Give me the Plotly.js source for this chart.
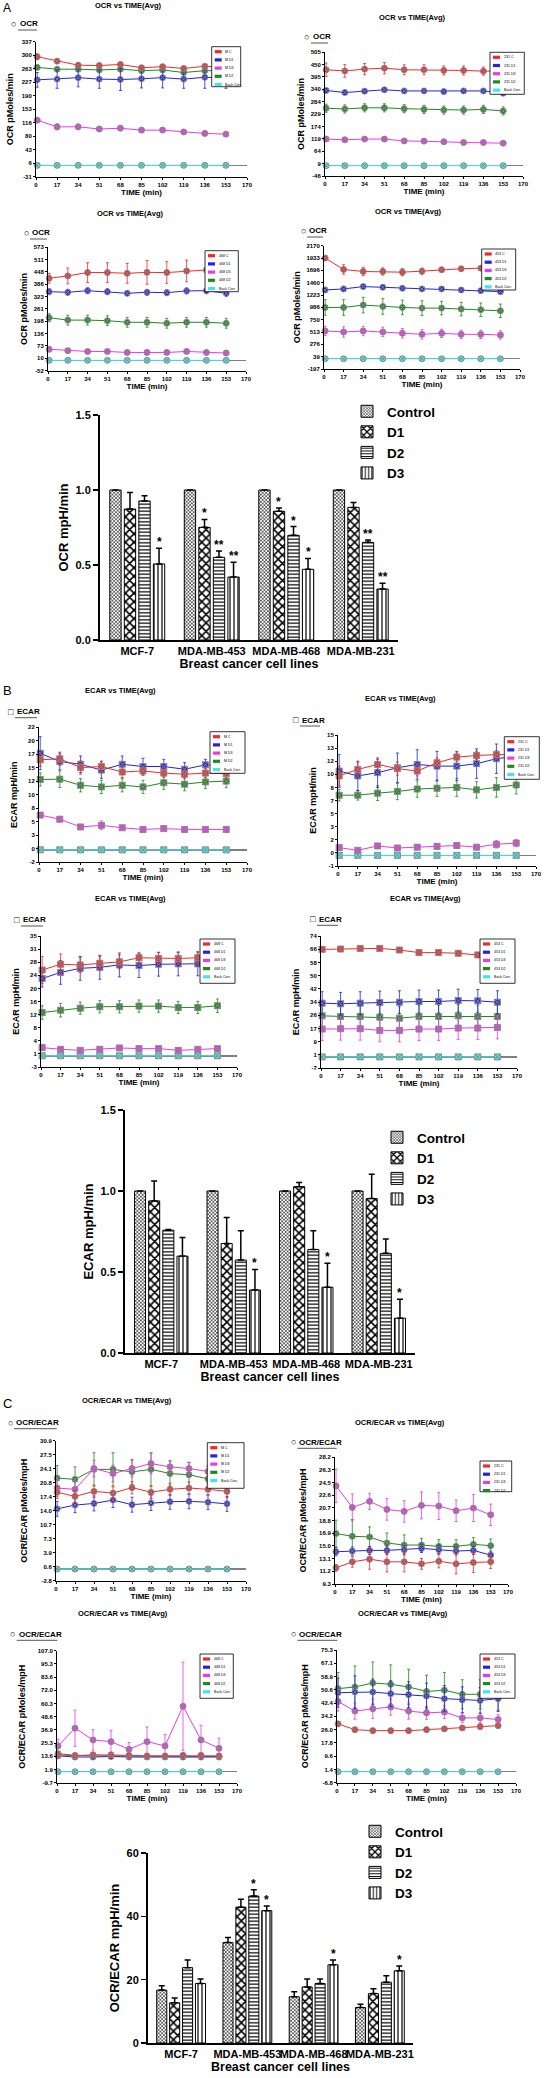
<!DOCTYPE html>
<html><head><meta charset="utf-8">
<script src="https://cdn.plot.ly/plotly-3.0.1.min.js"></script>
<style>html,body{margin:0;padding:0;background:#fff}#chart{width:550px;height:2078px}</style>
</head><body><div id="chart"></div>
<script>
// ---------------- DATA ----------------
const times = [1, 17, 34, 51, 68, 85, 102, 119, 136, 153];
const timeTicks = [0, 17, 34, 51, 68, 85, 102, 119, 136, 153, 170];
const cellLines = ['MCF-7', 'MDA-MB-453', 'MDA-MB-468', 'MDA-MB-231'];
const barGroups = ['Control', 'D1', 'D2', 'D3'];
const backCorr = [0, 0, 0, 0, 0, 0, 0, 0, 0, 0];
const noErr = [0, 0, 0, 0, 0, 0, 0, 0, 0, 0];

// A: OCR vs TIME
const ocrMcf7Names = ['M C', 'M D1', 'M D3', 'M D2', 'Back Corr.'];
const ocrMcf7Ticks = ['337', '300', '263', '227', '190', '153', '116', '80', '43', '6', '-31'];
const ocrMcf7 = [
  [296, 284, 273, 272, 275, 266, 269, 264, 270, 268],
  [233, 235, 239, 235, 234, 236, 239, 235, 240, 238],
  [123, 105, 105, 99, 101, 96, 96, 91, 87, 85],
  [267, 262, 262, 260, 262, 258, 260, 253, 258, 258],
  backCorr];
const ocrMcf7Err = [
  [8, 6, 6, 5, 6, 5, 5, 5, 6, 6],
  [20, 25, 25, 25, 30, 25, 28, 25, 30, 28],
  [6, 8, 7, 6, 6, 5, 5, 5, 6, 6],
  [6, 5, 5, 5, 5, 5, 5, 5, 5, 5],
  noErr];

const ocr231Names = ['231 C', '231 D1', '231 D3', '231 D2', 'Back Corr.'];
const ocr231Ticks = ['505', '450', '395', '340', '284', '229', '174', '119', '64', '9', '-46'];
const ocr231 = [
  [426, 421, 429, 433, 426, 426, 423, 423, 420, 420],
  [334, 325, 331, 337, 332, 332, 329, 332, 332, 322],
  [118, 115, 118, 118, 110, 109, 106, 103, 103, 100],
  [255, 252, 257, 257, 253, 250, 247, 247, 250, 243],
  backCorr];
const ocr231Err = [
  [30, 28, 25, 25, 22, 22, 20, 20, 18, 18],
  [8, 6, 6, 6, 6, 6, 6, 6, 6, 6],
  [8, 6, 6, 6, 5, 5, 5, 4, 4, 4],
  [18, 18, 18, 18, 18, 18, 18, 18, 18, 18],
  noErr];

const ocr468Names = ['468 C', '468 D1', '468 D3', '468 D2', 'Back Corr.'];
const ocr468Ticks = ['573', '511', '448', '386', '323', '261', '198', '136', '73', '10', '-52'];
const ocr468 = [
  [416, 428, 445, 445, 441, 446, 445, 453, 458, 460],
  [348, 345, 353, 348, 340, 345, 343, 352, 353, 340],
  [56, 49, 45, 45, 40, 40, 40, 45, 40, 37],
  [216, 204, 204, 201, 193, 193, 188, 193, 193, 188],
  backCorr];
const ocr468Err = [
  [25, 40, 50, 50, 50, 60, 55, 55, 60, 60],
  [15, 15, 15, 15, 12, 15, 15, 15, 15, 15],
  [6, 5, 5, 5, 4, 4, 4, 4, 4, 4],
  [20, 25, 25, 25, 25, 25, 25, 25, 25, 25],
  noErr];

const ocr453Names = ['453 C', '453 D1', '453 D3', '453 D2', 'Back Corr.'];
const ocr453Ticks = ['2170', '1933', '1696', '1460', '1223', '986', '750', '513', '276', '39', '-197'];
const ocr453 = [
  [1933, 1714, 1675, 1675, 1662, 1681, 1707, 1727, 1739, 1745],
  [1320, 1340, 1385, 1372, 1353, 1340, 1340, 1320, 1307, 1288],
  [533, 514, 533, 514, 488, 469, 488, 469, 469, 456],
  [985, 985, 1030, 1004, 985, 972, 972, 953, 940, 920],
  backCorr];
const ocr453Err = [
  [40, 90, 80, 70, 70, 60, 50, 40, 40, 40],
  [50, 50, 40, 40, 40, 40, 40, 40, 40, 40],
  [90, 100, 90, 90, 90, 90, 80, 80, 80, 80],
  [150, 150, 150, 150, 140, 140, 130, 130, 130, 130],
  noErr];

// B: ECAR vs TIME
const ecarMcf7Ticks = ['22', '20', '17', '15', '12', '10', '8', '5', '3', '0', '-2'];
const ecarMcf7 = [
  [16.3, 16.5, 14.9, 15.1, 14.1, 14.3, 13.9, 13.7, 13.9, 13.8],
  [17.5, 16.0, 15.5, 14.45, 15.5, 15.1, 15.1, 14.6, 15.4, 15.2],
  [6.3, 5.55, 4.15, 4.45, 4.0, 3.7, 3.85, 3.7, 3.7, 3.7],
  [12.75, 12.8, 11.7, 11.4, 11.7, 11.4, 12.15, 11.9, 12.3, 12.45],
  backCorr];
const ecarMcf7Err = [
  [1.2, 1.2, 1.2, 1.0, 1.0, 0.8, 0.8, 0.8, 0.8, 0.8],
  [3.0, 1.5, 1.5, 1.5, 1.5, 1.5, 1.3, 1.2, 1.0, 1.0],
  [0.4, 0.4, 0.4, 0.8, 0.4, 0.3, 0.3, 0.3, 0.3, 0.3],
  [1.2, 1.5, 1.2, 1.2, 1.2, 1.2, 1.2, 1.2, 1.2, 1.2],
  noErr];

const ecar231Ticks = ['15', '13', '12', '10', '8', '7', '5', '3', '2', '0', '-1'];
const ecar231 = [
  [9.7, 10.5, 11.1, 10.6, 10.3, 11.3, 12.0, 12.2, 12.3, 12.3],
  [10.3, 9.7, 10.1, 10.7, 11.1, 10.9, 10.9, 11.2, 11.8, 12.1],
  [0.94, 0.62, 1.15, 0.9, 1.0, 1.1, 1.2, 1.0, 1.35, 1.5],
  [7.35, 7.35, 7.6, 7.8, 8.1, 8.2, 8.3, 8.0, 8.3, 8.6],
  backCorr];
const ecar231Err = [
  [1.2, 0.9, 0.6, 0.8, 0.6, 0.6, 0.5, 0.5, 0.5, 0.5],
  [2.0, 1.8, 1.8, 1.8, 1.8, 1.8, 1.8, 1.8, 1.8, 1.8],
  [0.35, 0.2, 0.3, 0.3, 0.3, 0.35, 0.35, 0.3, 0.45, 0.45],
  [0.7, 0.6, 0.9, 1.0, 1.0, 1.0, 1.1, 1.0, 1.2, 1.1],
  noErr];

const ecar468Ticks = ['35', '31', '28', '24', '20', '16', '12', '8', '4', '1', '-3'];
const ecar468 = [
  [25.2, 26.9, 26.7, 27.2, 27.6, 28.8, 28.6, 28.6, 28.8, 28.9],
  [22.7, 24.5, 25.7, 26.0, 26.7, 26.5, 26.9, 27.0, 27.0, 27.1],
  [2.4, 1.9, 1.6, 1.9, 2.3, 2.1, 2.1, 1.6, 1.9, 2.1],
  [12.7, 13.4, 14.0, 14.4, 14.4, 14.6, 14.6, 14.2, 14.2, 14.7],
  backCorr];
const ecar468Err = [
  [4, 3, 2.2, 2, 2, 1.6, 1.8, 1.8, 1.8, 1.8],
  [2.5, 3.5, 3.5, 3.5, 3.5, 3.5, 3.5, 3.5, 3.5, 3.5],
  [0.5, 0.5, 0.5, 0.5, 0.5, 0.5, 0.5, 0.5, 0.5, 0.5],
  [2, 2, 1.8, 1.8, 1.8, 1.8, 1.8, 1.8, 1.8, 2],
  noErr];

const ecar453Ticks = ['74', '66', '58', '50', '42', '34', '26', '17', '9', '1', '-7'];
const ecar453 = [
  [66.0, 66.2, 66.6, 66.6, 65.6, 64.0, 64.0, 63.6, 62.6, 62.5],
  [33.0, 32.6, 33.0, 33.4, 33.6, 34.0, 34.0, 34.6, 34.4, 33.6],
  [17.1, 17.3, 17.3, 16.3, 16.3, 17.1, 17.1, 17.7, 17.7, 18.1],
  [25.2, 24.8, 24.8, 24.4, 23.8, 24.8, 24.8, 25.2, 24.8, 24.8],
  backCorr];
const ecar453Err = [
  [1, 1, 1, 1, 1, 1, 1, 1, 1.5, 1.5],
  [7, 7, 7, 7, 7, 7, 7, 7, 7, 7],
  [7, 7, 7, 7, 7, 7, 7, 7, 7, 7],
  [7, 7, 7, 7, 7, 7, 7, 7, 7, 7],
  noErr];

// C: OCR/ECAR vs TIME
const ratioMcf7Ticks = ['30.9', '27.5', '24.1', '20.8', '17.4', '14.0', '10.7', '7.3', '3.9', '0.6', '-2.8'];
const ratioMcf7 = [
  [18.5, 17.5, 18.7, 18.3, 19.6, 18.5, 19.2, 19.5, 19.2, 18.7],
  [14.5, 15.4, 15.8, 16.6, 15.5, 15.9, 16.2, 16.3, 16.1, 15.7],
  [19.5, 19.2, 24.2, 23.0, 24.2, 25.4, 24.6, 24.2, 23.5, 23.0],
  [21.9, 21.6, 24.0, 24.0, 23.4, 24.0, 23.0, 22.7, 21.7, 21.5],
  backCorr];
const ratioMcf7Err = [
  [1.5, 1.5, 1.5, 1.5, 1.5, 1.5, 1.5, 1.5, 1.5, 1.5],
  [1.8, 1.8, 1.8, 1.8, 1.8, 1.8, 1.8, 1.8, 1.8, 1.8],
  [2, 2, 2, 2, 2, 2.5, 1.5, 1.5, 1.5, 1.5],
  [3, 3, 4, 4, 3, 4, 3, 3, 3, 3],
  noErr];

const ratio231Names = ['231 C', '231 D1', '231 D3', '231 D2'];
const ratio231Ticks = ['28.2', '26.3', '24.5', '22.6', '20.7', '18.8', '16.9', '15.0', '13.1', '11.2', '9.3'];
const ratio231 = [
  [11.7, 12.6, 13.0, 12.6, 12.6, 12.3, 12.7, 12.3, 12.5, 12.6],
  [14.1, 14.2, 14.3, 14.3, 14.4, 14.6, 14.4, 14.2, 14.3, 13.6],
  [23.9, 20.7, 21.6, 20.4, 20.1, 21.0, 20.9, 20.2, 20.6, 19.6],
  [16.8, 16.4, 16.3, 15.4, 15.1, 15.1, 14.9, 14.9, 15.2, 15.0]];
const ratio231Err = [
  [0.5, 0.8, 1.5, 1.5, 1.5, 0.8, 1.0, 1.5, 1.5, 1.0],
  [0.6, 0.6, 0.6, 0.6, 0.6, 0.6, 0.6, 0.6, 0.6, 0.6],
  [2.5, 2.0, 1.2, 1.6, 1.6, 2.0, 2.0, 1.6, 2.0, 1.6],
  [2.0, 2.5, 1.5, 1.5, 1.5, 1.0, 1.0, 1.0, 1.0, 1.0]];

const ratio468Ticks = ['107.0', '95.3', '83.6', '72.0', '60.3', '48.6', '36.9', '25.3', '13.6', '1.9', '-9.7'];
const ratio468 = [
  [15, 14, 15, 15, 14.5, 14, 14, 14.5, 14.5, 14],
  [14, 13, 13, 13.5, 13, 13, 13, 13, 13, 13],
  [22.8, 38.5, 28.1, 26.6, 19.8, 26.6, 22.8, 57.9, 28.1, 20.7],
  [16, 14.5, 14, 14, 14, 13.5, 13.5, 14, 14, 13.5],
  backCorr];
const ratio468Err = [
  [2, 2, 2, 2, 2, 2, 2, 2, 2, 2],
  [1, 1, 1, 1, 1, 1, 1, 1, 1, 1],
  [6, 16, 9, 10, 6, 13, 10, 39, 13, 9],
  [1.5, 1.5, 1.5, 1.5, 1.5, 1.5, 1.5, 1.5, 1.5, 1.5],
  noErr];

const ratio453Ticks = ['75.3', '67.1', '58.9', '50.6', '42.4', '34.2', '26.0', '17.8', '9.6', '1.4', '-6.8'];
const ratio453 = [
  [29.6, 26.0, 25.4, 25.4, 25.4, 26.0, 26.5, 27.1, 27.9, 28.5],
  [48.9, 49.3, 49.3, 48.3, 47.7, 46.8, 45.2, 44.5, 44.1, 45.2],
  [43.5, 37.5, 38.9, 40.0, 37.5, 36.4, 36.9, 33.3, 33.3, 32.3],
  [51.4, 52.4, 54.9, 54.1, 52.4, 49.7, 50.4, 47.9, 47.9, 47.0],
  backCorr];
const ratio453Err = [
  [1.5, 1.5, 1.5, 1.5, 1.5, 1.5, 1.5, 1.5, 1.5, 1.5],
  [9, 10, 8, 8, 8, 8, 8, 8, 8, 8],
  [6, 5, 6, 5, 5, 4, 4, 3, 3, 3],
  [10, 13, 13, 12, 11, 10, 11, 9, 9, 9],
  noErr];

// Bar charts: rows = Control, D1, D2, D3 ; columns = cell lines
const ocrBars = [[1.0, 1.0, 1.0, 1.0], [0.873, 0.751, 0.858, 0.884], [0.927, 0.551, 0.698, 0.651], [0.507, 0.42, 0.471, 0.34]];
const ocrBarErr = [[0, 0, 0, 0], [0.11, 0.053, 0.022, 0.033], [0.035, 0.042, 0.058, 0.016], [0.104, 0.098, 0.073, 0.038]];
const ocrStars = [['', '', '', ''], ['', '*', '*', ''], ['', '**', '*', '**'], ['*', '**', '*', '**']];

const ecarBars = [[1.0, 1.0, 1.0, 1.0], [0.939, 0.676, 1.027, 0.953], [0.758, 0.574, 0.639, 0.615], [0.598, 0.389, 0.406, 0.215]];
const ecarBarErr = [[0, 0, 0, 0], [0.123, 0.16, 0.025, 0.15], [0.005, 0.18, 0.115, 0.088], [0.115, 0.127, 0.148, 0.117]];
const ecarStars = [['', '', '', ''], ['', '', '', ''], ['', '', '', ''], ['', '*', '*', '*']];

const ratioBars = [[16.7, 31.7, 14.6, 11.2], [12.7, 42.9, 17.7, 15.6], [23.8, 46.4, 18.8, 19.2], [18.8, 41.8, 24.7, 22.8]];
const ratioBarErr = [[1.4, 1.6, 1.6, 1.0], [1.5, 2.5, 2.5, 1.5], [2.4, 2.0, 1.4, 2.0], [1.4, 1.5, 1.5, 1.5]];
const ratioStars = [['', '', '', ''], ['', '', '', ''], ['', '*', '', ''], ['', '*', '*', '*']];

// ---------------- STYLE / LAYOUT ----------------
const W = 550, H = 2078;
const F = 'Arial, "Liberation Sans", sans-serif';
const seriesColors = ['#f02a2a', '#2222e0', '#e83ae8', '#1e8a1e', '#3ee8e8'];
const px = v => v / W, py = v => 1 - v / H;
const traces = [], shapes = [], annotations = [];
const layout = {
  width: W, height: H, margin: {l: 0, r: 0, t: 0, b: 0},
  paper_bgcolor: '#fff', plot_bgcolor: 'rgba(0,0,0,0)',
  font: {family: F, color: '#000'},
  barmode: 'group', bargap: 0.22, bargroupgap: 0.22, showlegend: true
};

function axName(n) { return n === 1 ? '' : String(n); }

function addText(x, y, text, size, opts) {
  annotations.push(Object.assign({xref: 'paper', yref: 'paper', x: px(x), y: py(y), text: text,
    showarrow: false, xanchor: 'center', yanchor: 'middle', font: {family: F, size: size, color: '#000'}}, opts || {}));
}

function addLinePlot(n, p) {
  const s = axName(n);
  const [lo, hi] = p.range;
  const k = p.ticks.length;
  const tv = p.ticks.map((_, i) => lo + (hi - lo) * (k - 1 - i) / (k - 1));
  layout['xaxis' + s] = {
    domain: [px(p.box[0]), px(p.box[1])], anchor: 'y' + s, range: [0, 170], tickvals: timeTicks,
    ticks: 'outside', ticklen: 2, tickwidth: 1, tickcolor: '#000', showline: true, linecolor: '#000', linewidth: 1,
    showgrid: false, zeroline: false, automargin: false, tickangle: 0,
    tickfont: {family: F, size: 6, weight: 'bold'},
    title: {text: 'TIME (min)', font: {family: F, size: 8, weight: 'bold'}, standoff: 1}
  };
  layout['yaxis' + s] = {
    domain: [py(p.box[3]), py(p.box[2])], anchor: 'x' + s, range: [lo, hi], tickvals: tv, ticktext: p.ticks,
    ticks: 'outside', ticklen: 2, tickwidth: 1, tickcolor: '#000', showline: true, linecolor: '#000', linewidth: 1,
    showgrid: false, zeroline: true, zerolinecolor: '#808080', zerolinewidth: 1.5, automargin: false,
    tickfont: {family: F, size: 6, weight: 'bold'},
    title: {text: p.yTitle, font: {family: F, size: 9, weight: 'bold'}, standoff: p.standoff}
  };
  const order = p.values.map((_, i) => i).reverse();
  order.forEach(i => {
    traces.push({
      type: 'scatter', mode: 'lines+markers', x: times, y: p.values[i], name: p.names[i],
      xaxis: 'x' + s, yaxis: 'y' + s, showlegend: false, cliponaxis: false,
      line: {color: seriesColors[i], width: 1},
      marker: {symbol: p.symbol, size: 6, color: seriesColors[i], line: {color: '#8a8a8a', width: 1}},
      error_y: {type: 'data', array: p.errors[i], visible: true, color: seriesColors[i], thickness: 0.8, width: 1.5}
    });
  });
  // title and header
  addText(p.title[0], p.title[1], '<b>' + p.titleText + '</b>', 7.5);
  addText(p.head[0], p.head[2], p.headSym, 9);
  addText(p.head[1], p.head[2], '<b>' + p.headText + '</b>', 8, {xanchor: 'left'});
  shapes.push({type: 'line', xref: 'paper', yref: 'paper', x0: px(p.head[1]), x1: px(p.head[3]),
    y0: py(p.head[2] + 6), y1: py(p.head[2] + 6), line: {color: '#555', width: 1}});
  // small legend
  const [lx0, ly0, lx1, ly1] = p.legendBox;
  shapes.push({type: 'rect', xref: 'paper', yref: 'paper', x0: px(lx0), x1: px(lx1), y0: py(ly1), y1: py(ly0),
    fillcolor: '#fff', line: {color: '#000', width: 0.8}, layer: 'above'});
  const step = 8.2;
  p.names.forEach((nm, i) => {
    const cy = ly0 + 5 + i * step;
    shapes.push({type: 'rect', xref: 'paper', yref: 'paper', x0: px(lx0 + 3), x1: px(lx0 + 10),
      y0: py(cy + 1.6), y1: py(cy - 1.6), fillcolor: seriesColors[i], line: {width: 0}, layer: 'above'});
    addText(lx0 + 11.5, cy, nm, 3.6, {xanchor: 'left'});
  });
}

const patterns = [
  {shape: 'x', size: 2.5, solidity: 0.4, fgcolor: '#000', bgcolor: '#fff'},
  {shape: 'x', size: 6, solidity: 0.45, fgcolor: '#000', bgcolor: '#fff'},
  {shape: '-', size: 3.5, solidity: 0.35, fgcolor: '#000', bgcolor: '#fff'},
  {shape: '|', size: 4, solidity: 0.3, fgcolor: '#000', bgcolor: '#fff'}
];

function addBarPlot(n, p) {
  const s = axName(n);
  layout['xaxis' + s] = {
    domain: [px(p.box[0]), px(p.box[1])], anchor: 'y' + s, type: 'category', categoryarray: cellLines,
    range: [-0.5, 3.5], showline: true, linecolor: '#000', linewidth: 2, ticks: '', showgrid: false,
    zeroline: false, automargin: false, tickangle: 0, tickfont: {family: F, size: 11, weight: 'bold'},
    title: {text: 'Breast cancer cell lines', font: {family: F, size: 12.5, weight: 'bold'}, standoff: p.xStandoff}
  };
  layout['yaxis' + s] = {
    domain: [py(p.box[3]), py(p.box[2])], anchor: 'x' + s, range: p.range, tickvals: p.tickvals,
    tickformat: p.tickformat, ticks: 'outside', ticklen: 5, tickwidth: 1.5, tickcolor: '#000',
    showline: true, linecolor: '#000', linewidth: 2, showgrid: false, zeroline: false, automargin: false,
    tickfont: {family: F, size: 11, weight: 'bold'},
    title: {text: p.yTitle, font: {family: F, size: 13, weight: 'bold'}, standoff: p.standoff}
  };
  barGroups.forEach((g, k) => {
    traces.push({
      type: 'bar', x: cellLines, y: p.values[k], name: g, legend: p.legend, xaxis: 'x' + s, yaxis: 'y' + s,
      marker: {color: '#fff', line: {color: '#000', width: 1}, pattern: patterns[k]},
      error_y: {type: 'data', symmetric: false, array: p.errors[k], arrayminus: [0, 0, 0, 0],
        color: '#000', thickness: 1.5, width: 3}
    });
    const slot = (1 - layout.bargap) / barGroups.length;
    p.stars[k].forEach((st, ci) => {
      if (!st) return;
      annotations.push({xref: 'x' + s, yref: 'y' + s, x: ci - (1 - layout.bargap) / 2 + (k + 0.5) * slot,
        y: p.values[k][ci] + p.errors[k][ci], text: '<b>' + st + '</b>', showarrow: false,
        yanchor: 'bottom', yshift: -3, font: {family: F, size: 12, color: '#000'}});
    });
  });
  layout[p.legend] = {x: px(p.leg[0]), y: py(p.leg[1]), xanchor: 'left', yanchor: 'top',
    bgcolor: 'rgba(0,0,0,0)', borderwidth: 0, tracegroupgap: 0,
    font: {family: F, size: 13.5, weight: 'bold'}};
}

// ---------------- PANELS ----------------
addLinePlot(1, {box: [36, 247, 41.7, 176.7], range: [-31, 337], ticks: ocrMcf7Ticks, values: ocrMcf7, errors: ocrMcf7Err,
  names: ocrMcf7Names, symbol: 'circle-x', yTitle: 'OCR pMoles/min', standoff: 6,
  title: [128, 6], titleText: 'OCR vs TIME(Avg)', head: [13, 18, 24, 37], headSym: '○', headText: 'OCR',
  legendBox: [211.7, 46.7, 240.7, 86.7]});
addLinePlot(2, {box: [325, 523, 52, 176], range: [-46, 505], ticks: ocr231Ticks, values: ocr231, errors: ocr231Err,
  names: ocr231Names, symbol: 'circle-x', yTitle: 'OCR pMoles/min', standoff: 4,
  title: [412, 17], titleText: 'OCR vs TIME(Avg)', head: [306.5, 311, 37, 328], headSym: '○', headText: 'OCR',
  legendBox: [490, 52.3, 524.3, 94.3]});
addLinePlot(3, {box: [48, 246, 247.3, 370.6], range: [-52, 573], ticks: ocr468Ticks, values: ocr468, errors: ocr468Err,
  names: ocr468Names, symbol: 'circle-x', yTitle: 'OCR pMoles/min', standoff: 4,
  title: [130, 213], titleText: 'OCR vs TIME(Avg)', head: [26, 30, 233, 47], headSym: '○', headText: 'OCR',
  legendBox: [205, 250.7, 238.3, 291.7]});
addLinePlot(4, {box: [324, 520, 245.7, 369], range: [-197, 2170], ticks: ocr453Ticks, values: ocr453, errors: ocr453Err,
  names: ocr453Names, symbol: 'circle-x', yTitle: 'OCR pMoles/min', standoff: 4,
  title: [408, 212], titleText: 'OCR vs TIME(Avg)', head: [303, 307, 231, 323], headSym: '○', headText: 'OCR',
  legendBox: [481.7, 249, 515.7, 290]});
addBarPlot(5, {box: [100, 398, 415, 640], range: [0, 1.5], tickvals: [0, 0.5, 1, 1.5], tickformat: '.1f',
  values: ocrBars, errors: ocrBarErr, stars: ocrStars, yTitle: 'OCR mpH/min', standoff: 4, xStandoff: 2,
  legend: 'legend', leg: [347, 396]});

addLinePlot(6, {box: [39, 247, 727.3, 862], range: [-2.2, 22.2], ticks: ecarMcf7Ticks, values: ecarMcf7, errors: ecarMcf7Err,
  names: ocrMcf7Names, symbol: 'square-x', yTitle: 'ECAR mpH/min', standoff: 8,
  title: [120, 690], titleText: 'ECAR vs TIME(Avg)', head: [10.5, 15, 711.7, 37], headSym: '□', headText: 'ECAR',
  legendBox: [210, 731.7, 245, 773.3]});
addLinePlot(7, {box: [338, 536, 735, 866], range: [-1.3, 14.7], ticks: ecar231Ticks, values: ecar231, errors: ecar231Err,
  names: ocr231Names, symbol: 'square-x', yTitle: 'ECAR mpH/min', standoff: 8,
  title: [400, 699], titleText: 'ECAR vs TIME(Avg)', head: [295.5, 300, 720, 320], headSym: '□', headText: 'ECAR',
  legendBox: [504.3, 736.7, 539.3, 779.3]});
addLinePlot(8, {box: [41, 237, 936, 1067], range: [-3.3, 35.2], ticks: ecar468Ticks, values: ecar468, errors: ecar468Err,
  names: ocr468Names, symbol: 'square-x', yTitle: 'ECAR mpH/min', standoff: 8,
  title: [130, 898], titleText: 'ECAR vs TIME(Avg)', head: [16.5, 21, 920, 43], headSym: '□', headText: 'ECAR',
  legendBox: [200, 939, 235, 983.3]});
addLinePlot(9, {box: [321, 517, 936, 1068], range: [-6.8, 74.2], ticks: ecar453Ticks, values: ecar453, errors: ecar453Err,
  names: ocr453Names, symbol: 'square-x', yTitle: 'ECAR mpH/min', standoff: 8,
  title: [425, 898], titleText: 'ECAR vs TIME(Avg)', head: [312.5, 317, 919.3, 338], headSym: '□', headText: 'ECAR',
  legendBox: [480, 939, 515, 983.3]});
addBarPlot(10, {box: [125, 415, 1110, 1353], range: [0, 1.5], tickvals: [0, 0.5, 1, 1.5], tickformat: '.1f',
  values: ecarBars, errors: ecarBarErr, stars: ecarStars, yTitle: 'ECAR mpH/min', standoff: 4, xStandoff: 2,
  legend: 'legend2', leg: [377, 1122]});

addLinePlot(11, {box: [56, 246, 1440.7, 1580.7], range: [-2.8, 30.9], ticks: ratioMcf7Ticks, values: ratioMcf7, errors: ratioMcf7Err,
  names: ocrMcf7Names, symbol: 'circle-x', yTitle: 'OCR/ECAR pMoles/mpH', standoff: 10,
  title: [127, 1400], titleText: 'OCR/ECAR vs TIME(Avg)', head: [10, 14, 1422.7, 56.7], headSym: '○', headText: 'OCR/ECAR',
  legendBox: [207.3, 1442.7, 244, 1488.3]});
addLinePlot(12, {box: [335, 508, 1457, 1584], range: [9.3, 28.2], ticks: ratio231Ticks, values: ratio231, errors: ratio231Err,
  names: ratio231Names, symbol: 'circle-x', yTitle: 'OCR/ECAR pMoles/mpH', standoff: 10,
  title: [400, 1422], titleText: 'OCR/ECAR vs TIME(Avg)', head: [293.3, 297.3, 1442.3, 336.7], headSym: '○', headText: 'OCR/ECAR',
  legendBox: [480, 1461, 511.7, 1491.7]});
addLinePlot(13, {box: [57, 237, 1650.7, 1782.7], range: [-9.7, 107], ticks: ratio468Ticks, values: ratio468, errors: ratio468Err,
  names: ocr468Names, symbol: 'circle-x', yTitle: 'OCR/ECAR pMoles/mpH', standoff: 10,
  title: [123, 1613], titleText: 'OCR/ECAR vs TIME(Avg)', head: [12.7, 16.7, 1634.3, 57.3], headSym: '○', headText: 'OCR/ECAR',
  legendBox: [200, 1654, 233.3, 1698.3]});
addLinePlot(14, {box: [337, 516, 1650, 1782.7], range: [-6.8, 75.3], ticks: ratio453Ticks, values: ratio453, errors: ratio453Err,
  names: ocr453Names, symbol: 'circle-x', yTitle: 'OCR/ECAR pMoles/mpH', standoff: 10,
  title: [403, 1613], titleText: 'OCR/ECAR vs TIME(Avg)', head: [293.3, 297.3, 1634.3, 337.3], headSym: '○', headText: 'OCR/ECAR',
  legendBox: [480, 1654, 515, 1698.3]});
addBarPlot(15, {box: [148, 413, 1853, 2043], range: [0, 60], tickvals: [0, 20, 40, 60], tickformat: 'd',
  values: ratioBars, errors: ratioBarErr, stars: ratioStars, yTitle: 'OCR/ECAR mpH/min', standoff: 4, xStandoff: 3,
  legend: 'legend3', leg: [355, 1816]});

// section letters
addText(1, 8, 'A', 12, {xanchor: 'left'});
addText(1, 690, 'B', 13, {xanchor: 'left'});
addText(1, 1403, 'C', 13, {xanchor: 'left'});

layout.shapes = shapes;
layout.annotations = annotations;
Plotly.newPlot('chart', traces, layout, {staticPlot: true, displayModeBar: false});
</script></body></html>
